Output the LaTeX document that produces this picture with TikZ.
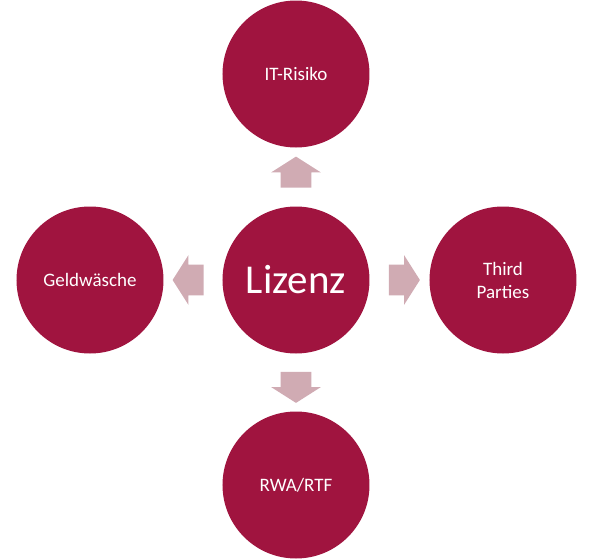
\documentclass[tikz,border=0pt]{standalone}
\usepackage{fontspec}
\setmainfont{Carlito}
\usetikzlibrary{calc,shapes.arrows}
\definecolor{bordeaux}{RGB}{160,20,63}
\definecolor{rosegrey}{RGB}{208,171,179}
\tikzset{
  topic/.style={circle,fill=bordeaux,text=white,minimum size=73.5pt,inner sep=0pt,align=center,font=\fontsize{9.5}{11.5}\selectfont},
  blockarrow/.style={single arrow,fill=rosegrey,inner xsep=0pt,inner ysep=7.5pt,minimum height=15.5pt,single arrow head extend=4.75pt,single arrow tip angle=115}
}
\begin{document}
\begin{tikzpicture}[x=0.5pt,y=0.5pt]
\useasboundingbox (0,0) rectangle (591,559);
% circles
\node[topic,font=\fontsize{20.5}{24}\selectfont] (lizenz) at (296,279) {Lizenz};
\node[topic] (it) at (296,485) {IT-Risiko};
\node[topic] (rwa) at (296,74) {RWA/RTF};
\node[topic] (geld) at (90,279) {Geldwäsche};
\node[topic] (third) at (503,279) {Third\\Parties};
% arrows
\node[blockarrow,rotate=90] (a-it) at ($(lizenz)!0.5!(it)$) {};
\node[blockarrow,rotate=-90] (a-rwa) at ($(lizenz)!0.5!(rwa)$) {};
\node[blockarrow,rotate=180] (a-geld) at ($(lizenz)!0.5!(geld)$) {};
\node[blockarrow] (a-third) at ($(lizenz)!0.5!(third)$) {};
\end{tikzpicture}
\end{document}
